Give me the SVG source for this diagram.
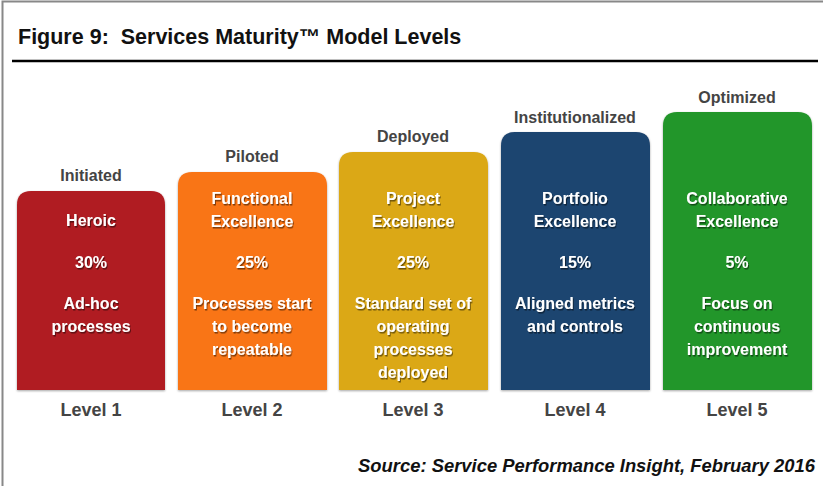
<svg xmlns="http://www.w3.org/2000/svg" width="823" height="486" viewBox="0 0 823 486">
<defs>
<filter id="sh" x="-10%" y="-10%" width="130%" height="140%"><feDropShadow dx="1" dy="1.5" stdDeviation="0.6" flood-color="#000" flood-opacity="0.5"/></filter>
<filter id="bs" x="-5%" y="-5%" width="110%" height="110%"><feDropShadow dx="0" dy="1" stdDeviation="1.2" flood-color="#000" flood-opacity="0.35"/></filter>
</defs>
<style>
text{font-family:"Liberation Sans Narrow","Liberation Sans",Arial,sans-serif;font-weight:bold;text-anchor:middle}
.title{font-size:21.5px;text-anchor:start;fill:#111}
.top{font-size:16px;fill:#444}
.in{font-size:16px;fill:#fff;filter:url(#sh)}
.lvl{font-size:18px;fill:#444}
.src{font-size:18.4px;font-style:italic;text-anchor:end;fill:#111}
</style>
<rect x="0" y="0" width="823" height="486" fill="#fff"/>
<path d="M2.5,486 V1.5 H823" fill="none" stroke="#888" stroke-width="2"/>
<text class="title" x="18" y="44" xml:space="preserve">Figure 9:  Services Maturity™ Model Levels</text>
<line x1="12" y1="61" x2="818" y2="61" stroke="#000" stroke-width="2.5"/>

<g id="level1">
<text class="top" x="91" y="181">Initiated</text>
<path d="M17,390 V205 Q17,191 31,191 H151 Q165,191 165,205 V390 Z" fill="#B01C21" filter="url(#bs)"/>
<text class="in" x="91" y="226">Heroic</text>
<text class="in" x="91" y="268">30%</text>
<text class="in" x="91" y="309">Ad-hoc</text>
<text class="in" x="91" y="332">processes</text>
<text class="lvl" x="91" y="416">Level 1</text>
</g>
<g id="level2">
<text class="top" x="252" y="162">Piloted</text>
<path d="M178,390 V186 Q178,172 192,172 H313 Q327,172 327,186 V390 Z" fill="#F97418" filter="url(#bs)"/>
<text class="in" x="252" y="204">Functional</text>
<text class="in" x="252" y="227">Excellence</text>
<text class="in" x="252" y="268">25%</text>
<text class="in" x="252" y="309">Processes start</text>
<text class="in" x="252" y="332">to become</text>
<text class="in" x="252" y="355">repeatable</text>
<text class="lvl" x="252" y="416">Level 2</text>
</g>
<g id="level3">
<text class="top" x="413" y="142">Deployed</text>
<path d="M339,390 V166 Q339,152 353,152 H474 Q488,152 488,166 V390 Z" fill="#DBA816" filter="url(#bs)"/>
<text class="in" x="413" y="204">Project</text>
<text class="in" x="413" y="227">Excellence</text>
<text class="in" x="413" y="268">25%</text>
<text class="in" x="413" y="309">Standard set of</text>
<text class="in" x="413" y="332">operating</text>
<text class="in" x="413" y="355">processes</text>
<text class="in" x="413" y="378">deployed</text>
<text class="lvl" x="413" y="416">Level 3</text>
</g>
<g id="level4">
<text class="top" x="575" y="123">Institutionalized</text>
<path d="M501,390 V146 Q501,132 515,132 H636 Q650,132 650,146 V390 Z" fill="#1F4570" filter="url(#bs)"/>
<text class="in" x="575" y="204">Portfolio</text>
<text class="in" x="575" y="227">Excellence</text>
<text class="in" x="575" y="268">15%</text>
<text class="in" x="575" y="309">Aligned metrics</text>
<text class="in" x="575" y="332">and controls</text>
<text class="lvl" x="575" y="416">Level 4</text>
</g>
<g id="level5">
<text class="top" x="737" y="103">Optimized</text>
<path d="M663,390 V126 Q663,112 677,112 H798 Q812,112 812,126 V390 Z" fill="#23962A" filter="url(#bs)"/>
<text class="in" x="737" y="204">Collaborative</text>
<text class="in" x="737" y="227">Excellence</text>
<text class="in" x="737" y="268">5%</text>
<text class="in" x="737" y="309">Focus on</text>
<text class="in" x="737" y="332">continuous</text>
<text class="in" x="737" y="355">improvement</text>
<text class="lvl" x="737" y="416">Level 5</text>
</g>
<g id="connectors"/>
<text class="src" x="815" y="472">Source: Service Performance Insight, February 2016</text>
</svg>
